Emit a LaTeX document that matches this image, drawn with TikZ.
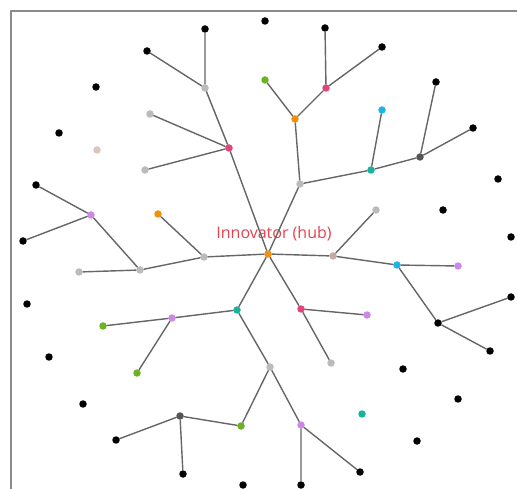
\documentclass[tikz,border=0pt]{standalone}
\usepackage{fontspec}
\setsansfont{Open Sans}
\usetikzlibrary{arrows}

\definecolor{kantengrau}{HTML}{666666}
\definecolor{rahmengrau}{HTML}{8A8A8A}
\definecolor{orangeP}{HTML}{F0900F}
\definecolor{pinkP}{HTML}{E0457B}
\definecolor{gruenP}{HTML}{6CB324}
\definecolor{cyanP}{HTML}{1FB4E6}
\definecolor{tuerkisP}{HTML}{17B39A}
\definecolor{lilaP}{HTML}{CC88E6}
\definecolor{grauP}{HTML}{BBBBBB}
\definecolor{dunkelP}{HTML}{555555}
\definecolor{rosaP}{HTML}{C8AAA4}
\definecolor{blassP}{HTML}{DCC4C0}
\definecolor{textrot}{HTML}{E8414F}

\begin{document}
\begin{tikzpicture}[line cap=round,line join=round,x=0.02cm,y=-0.02cm,
		knoten/.style={circle,fill=#1,inner sep=0pt,minimum size=0.15cm},
		kante/.style={draw=kantengrau,line width=0.8pt}]
		\useasboundingbox (0,0) rectangle (517,489);
		% Rahmen (rechts und unten abgeschnitten)
		\draw[rahmengrau,line width=1pt,line cap=butt] (11,489) -- (11,11) -- (517,11);

		% Zentrum
		\node[knoten=orangeP] (h) at (268,254) {};
		\node[textrot,font=\sffamily\fontsize{9.1}{11}\selectfont] (titel) at (274,234) {Innovator (hub)};

		% Ast nach oben links
		\node[knoten=pinkP] (p1) at (229,148) {};
		\node[knoten=grauP] (g1) at (205,88) {};
		\node[knoten=black] (s1) at (205,29) {};
		\node[knoten=black] (s2) at (147,51) {};
		\node[knoten=grauP] (g2) at (150,114) {};
		\node[knoten=grauP] (g3) at (145,170) {};

		% Ast nach oben rechts
		\node[knoten=grauP] (g4) at (300,184) {};
		\node[knoten=orangeP] (o1) at (295,119) {};
		\node[knoten=gruenP] (gr1) at (265,80) {};
		\node[knoten=pinkP] (p2) at (326,88) {};
		\node[knoten=black] (s3) at (325,28) {};
		\node[knoten=black] (s4) at (382,47) {};
		\node[knoten=tuerkisP] (t1) at (371,170) {};
		\node[knoten=cyanP] (c1) at (382,110) {};
		\node[knoten=dunkelP] (d1) at (420,157) {};
		\node[knoten=black] (s5) at (436,82) {};
		\node[knoten=black] (s6) at (473,128) {};

		% Ast nach rechts
		\node[knoten=rosaP] (r1) at (333,256) {};
		\node[knoten=grauP] (g5) at (376,210) {};
		\node[knoten=cyanP] (c2) at (397,265) {};
		\node[knoten=lilaP] (l1) at (458,266) {};
		\node[knoten=black] (s7) at (438,323) {};
		\node[knoten=black] (s8) at (511,297) {};
		\node[knoten=black] (s9) at (490,351) {};

		% Ast nach unten rechts
		\node[knoten=pinkP] (p3) at (301,309) {};
		\node[knoten=lilaP] (l2) at (367,315) {};
		\node[knoten=grauP] (g6) at (331,363) {};

		% Ast nach unten links
		\node[knoten=tuerkisP] (t2) at (237,310) {};
		\node[knoten=lilaP] (l3) at (172,318) {};
		\node[knoten=gruenP] (gr2) at (103,326) {};
		\node[knoten=gruenP] (gr3) at (137,373) {};
		\node[knoten=grauP] (g7) at (270,367) {};
		\node[knoten=gruenP] (gr4) at (241,426) {};
		\node[knoten=dunkelP] (d2) at (180,416) {};
		\node[knoten=black] (s10) at (116,440) {};
		\node[knoten=black] (s11) at (183,474) {};
		\node[knoten=lilaP] (l4) at (301,425) {};
		\node[knoten=black] (s12) at (301,485) {};
		\node[knoten=black] (s13) at (360,472) {};

		% Ast nach links
		\node[knoten=grauP] (g8) at (204,257) {};
		\node[knoten=orangeP] (o2) at (158,214) {};
		\node[knoten=grauP] (g9) at (140,270) {};
		\node[knoten=grauP] (g10) at (79,272) {};
		\node[knoten=lilaP] (l5) at (91,215) {};
		\node[knoten=black] (s14) at (36,185) {};
		\node[knoten=black] (s15) at (23,241) {};

		% Einzelne Punkte ohne Verbindung
		\foreach \name/\x/\y in {e1/265/21, e2/96/87, e3/59/133, e4/498/179, e5/443/210,
			e6/511/237, e7/27/304, e8/49/357, e9/83/404, e10/403/369, e11/458/399,
			e12/417/441, e13/243/485}
			\node[knoten=black] (\name) at (\x,\y) {};
		\node[knoten=blassP] (e14) at (97,150) {};
		\node[knoten=tuerkisP] (e15) at (362,414) {};

		% Kanten
		\draw[kante] (h) -- (p1) -- (g1) -- (s1);
		\draw[kante] (g1) -- (s2);
		\draw[kante] (p1) -- (g2);
		\draw[kante] (p1) -- (g3);
		\draw[kante] (h) -- (g4) -- (o1) -- (gr1);
		\draw[kante] (o1) -- (p2) -- (s3);
		\draw[kante] (p2) -- (s4);
		\draw[kante] (g4) -- (t1) -- (c1);
		\draw[kante] (t1) -- (d1) -- (s5);
		\draw[kante] (d1) -- (s6);
		\draw[kante] (h) -- (r1) -- (g5);
		\draw[kante] (r1) -- (c2) -- (l1);
		\draw[kante] (c2) -- (s7) -- (s8);
		\draw[kante] (s7) -- (s9);
		\draw[kante] (h) -- (p3) -- (l2);
		\draw[kante] (p3) -- (g6);
		\draw[kante] (h) -- (t2) -- (l3) -- (gr2);
		\draw[kante] (l3) -- (gr3);
		\draw[kante] (t2) -- (g7) -- (gr4) -- (d2) -- (s10);
		\draw[kante] (d2) -- (s11);
		\draw[kante] (g7) -- (l4) -- (s12);
		\draw[kante] (l4) -- (s13);
		\draw[kante] (h) -- (g8) -- (o2);
		\draw[kante] (g8) -- (g9) -- (g10);
		\draw[kante] (g9) -- (l5) -- (s14);
		\draw[kante] (l5) -- (s15);
	\end{tikzpicture}
\end{document}
